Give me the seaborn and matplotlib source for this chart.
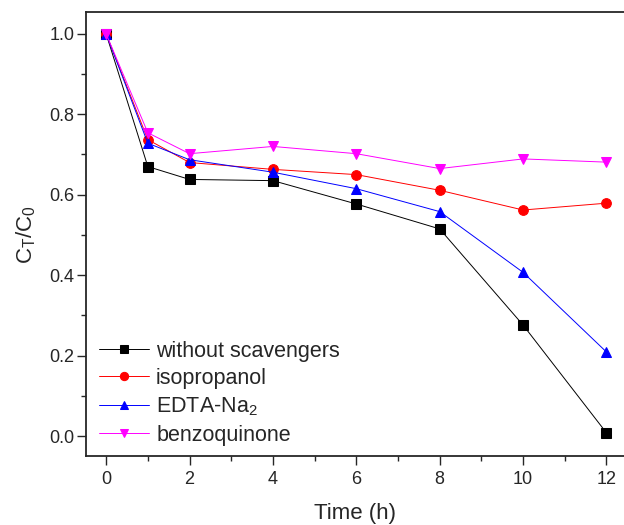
import matplotlib
matplotlib.use("Agg")
import matplotlib.pyplot as plt
import seaborn as sns
import pandas as pd
from matplotlib.ticker import MultipleLocator

time_h = [0, 1, 2, 4, 6, 8, 10, 12]
without_scavengers = [1.0, 0.670, 0.638, 0.635, 0.577, 0.515, 0.276, 0.008]
isopropanol = [1.0, 0.737, 0.680, 0.663, 0.650, 0.611, 0.562, 0.579]
edta_na2 = [1.0, 0.728, 0.687, 0.656, 0.615, 0.558, 0.407, 0.209]
benzoquinone = [1.0, 0.754, 0.702, 0.720, 0.702, 0.665, 0.689, 0.681]

labels = ["without scavengers", "isopropanol", "EDTA-Na$_2$", "benzoquinone"]
series = [without_scavengers, isopropanol, edta_na2, benzoquinone]
colors = ["black", "red", "blue", "magenta"]
markers = ["s", "o", "^", "v"]

sns.set_style("ticks")
plt.rcParams["font.family"] = ["Liberation Sans", "DejaVu Sans"]
plt.rcParams["mathtext.fontset"] = "custom"
plt.rcParams["mathtext.rm"] = "Liberation Sans"
plt.rcParams["mathtext.it"] = "Liberation Sans"

fig = plt.figure(figsize=(6.24, 5.25), dpi=100)
ax = fig.add_axes([0.138, 0.131, 0.862, 0.846])

for lab, vals, c, m in zip(labels, series, colors, markers):
    df = pd.DataFrame({"t": time_h, "v": vals})
    sns.lineplot(data=df, x="t", y="v", ax=ax, color=c, marker=m, markersize=7,
                 markeredgecolor=c, linewidth=0.7, label=lab)

ax.set_xlim(-0.48, 12.42)
ax.set_ylim(-0.05, 1.054)
ax.xaxis.set_major_locator(MultipleLocator(2))
ax.xaxis.set_minor_locator(MultipleLocator(1))
ax.yaxis.set_major_locator(MultipleLocator(0.2))
ax.yaxis.set_minor_locator(MultipleLocator(0.1))
ax.yaxis.set_major_formatter(matplotlib.ticker.FormatStrFormatter("%.1f"))
ax.tick_params(which="major", direction="out", length=6.5, width=1, labelsize=13)
ax.tick_params(axis="x", which="major", pad=4)
ax.tick_params(axis="y", which="major", pad=2)
ax.tick_params(which="minor", direction="out", length=3.5, width=1)
for s in ["left", "bottom", "top"]:
    ax.spines[s].set_linewidth(1.3)
ax.spines["right"].set_visible(False)

ax.set_xlabel("Time (h)", fontsize=16, labelpad=11)
ax.set_ylabel("C$_T$/C$_0$", fontsize=16, labelpad=8)

ax.legend(loc="lower left", frameon=False, fontsize=15.5, handlelength=2.3,
          handletextpad=0.35, borderaxespad=0.2, labelspacing=0.3,
          markerscale=0.85, bbox_to_anchor=(0.0, -0.005))

fig.savefig("out.png", dpi=100)
